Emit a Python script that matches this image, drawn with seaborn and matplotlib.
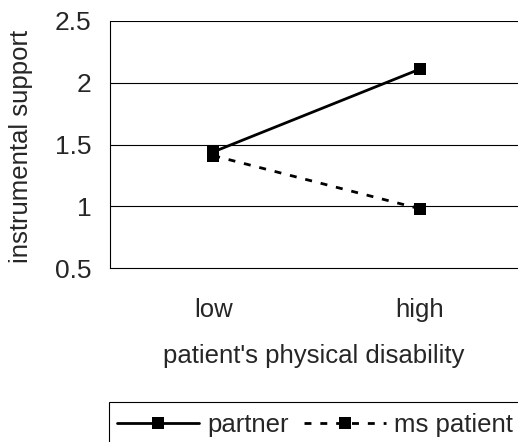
import matplotlib
matplotlib.use("Agg")
import matplotlib.pyplot as plt
import seaborn as sns
import pandas as pd
from matplotlib.patches import Rectangle

sns.set_style("white")
plt.rcParams["font.family"] = ["Liberation Sans", "DejaVu Sans"]

# Data
levels = ["low", "high"]
partner = [1.44, 2.11]
ms_patient = [1.41, 0.98]
series_names = ["partner", "ms patient"]
y_ticks = [0.5, 1.0, 1.5, 2.0, 2.5]
y_tick_labels = ["0.5", "1", "1.5", "2", "2.5"]

df = pd.DataFrame({
    "x": [0, 1, 0, 1],
    "value": partner + ms_patient,
    "group": [series_names[0]] * 2 + [series_names[1]] * 2,
})

FS = 18.5
W, H = 518, 442
fig = plt.figure(figsize=(W / 100, H / 100), dpi=100)
left, right, top, bottom = 110, 523, 21, 268
ax = fig.add_axes([left / W, 1 - bottom / H, (right - left) / W, (bottom - top) / H])

lw = 2.0
dash = (2.5, 3.2)
sns.lineplot(data=df, x="x", y="value", hue="group", style="group",
             palette={series_names[0]: "black", series_names[1]: "black"},
             dashes={series_names[0]: "", series_names[1]: dash},
             markers={series_names[0]: "s", series_names[1]: "s"},
             markersize=9, linewidth=lw, markeredgewidth=0,
             ax=ax, legend=False, zorder=3)

ax.set_xlim(-0.5, 1.5)
ax.set_ylim(0.5, 2.5)
ax.set_yticks(y_ticks)
ax.set_yticklabels(y_tick_labels)
for yv in y_ticks[1:]:
    ax.axhline(yv, color="black", linewidth=0.8, zorder=1)

# category boundary ticks on x axis, labels centred under categories
ax.set_xticks([-0.5, 0.5, 1.5])
ax.set_xticklabels([])
ax.tick_params(axis="x", direction="out", length=6, width=0.8, color="black")
ax.tick_params(axis="y", direction="out", length=6.5, width=0.8, color="black",
               labelsize=FS + 0.5, pad=7)
for i, lab in enumerate(levels):
    ax.text(i, -0.17, lab, transform=ax.get_xaxis_transform(),
            ha="center", va="center", fontsize=FS)

ax.set_xlabel("")
ax.set_ylabel("")
fig.text(21 / W, 1 - 146 / H, "instrumental support", rotation=90,
         ha="center", va="center", fontsize=FS)
fig.text(314 / W, 1 - 356 / H, "patient's physical disability",
         ha="center", va="center", fontsize=FS)

for s in ["top", "right"]:
    ax.spines[s].set_visible(False)
for s in ["left", "bottom"]:
    ax.spines[s].set_color("black")
    ax.spines[s].set_linewidth(0.8)

# legend
fig.patches.append(Rectangle((109 / W, 1 - 460 / H), 440 / W, 58 / H,
                             transform=fig.transFigure, fill=False,
                             edgecolor="black", linewidth=0.8))
handles = [
    plt.Line2D([], [], color="black", linewidth=lw, marker="s", markersize=9,
               markeredgewidth=0),
    plt.Line2D([], [], color="black", linewidth=lw, marker="s", markersize=9,
               markeredgewidth=0, dashes=dash),
]
fig.legend(handles, series_names, loc="center left",
           bbox_to_anchor=(117 / W, 1 - 425 / H), ncol=2, frameon=False,
           fontsize=FS, handlelength=3.2, handletextpad=0.3,
           columnspacing=0.6, borderpad=0, borderaxespad=0)

fig.savefig("out.png", dpi=100)
